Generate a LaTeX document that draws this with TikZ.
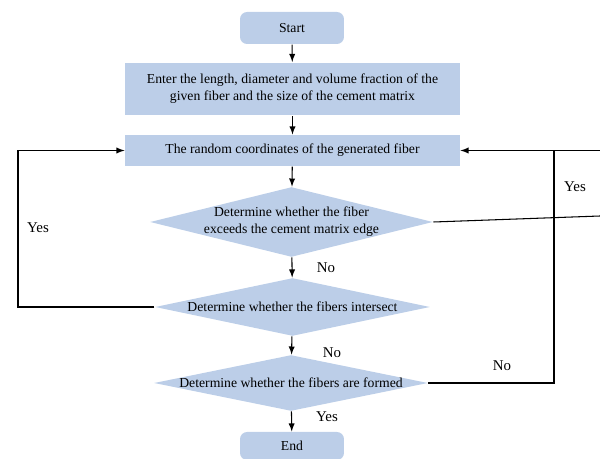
\documentclass[tikz,border=0pt]{standalone}
\usepackage{fontspec}
\setmainfont{Liberation Serif}
\usetikzlibrary{arrows,shapes,positioning}
\definecolor{flowblue}{RGB}{188,206,232}

\begin{document}
\begin{tikzpicture}[x=0.02cm,y=-0.02cm,>=latex,semithick,font=\fontsize{7.8}{9.8}\selectfont]
  \tikzstyle{term}=[rectangle,rounded corners=4pt,fill=flowblue,minimum width=2.08cm,minimum height=0.64cm,inner sep=0pt]
  \tikzstyle{box}=[rectangle,fill=flowblue,minimum width=6.7cm,inner sep=0pt,align=center]
  \tikzstyle{decision}=[diamond,fill=flowblue,inner sep=0pt]
  \tikzstyle{answer}=[font=\fontsize{8.5}{10}\selectfont]

  \useasboundingbox (0,0) rectangle (600,459);

  \node[term] (start) at (292,28) {Start};
  \node[box,minimum height=1.06cm] (input) at (292.5,89)
    {Enter the length, diameter and volume fraction of the\\given fiber and the size of the cement matrix};
  \node[box,minimum height=0.62cm] (coords) at (292.5,150.5) {The random coordinates of the generated fiber};
  \node[decision,minimum width=5.66cm,minimum height=1.4cm,
        label={[align=center]center:Determine whether the fiber\\exceeds the cement matrix edge}] (edge) at (291.5,222) {};
  \node[decision,minimum width=5.5cm,minimum height=1.16cm,
        label={center:Determine whether the fibers intersect}] (cross) at (292.5,307) {};
  \node[decision,minimum width=5.48cm,minimum height=1.12cm,
        label={center:Determine whether the fibers are formed}] (formed) at (291,383) {};
  \node[term,minimum height=0.56cm] (end) at (292,446) {End};

  \foreach \from/\to in {start/input,input/coords,coords/edge,edge/cross,cross/formed,formed/end}
    \draw[->] (\from) -- (\to);

  % loop back from the intersection test
  \coordinate (left) at (18,307);
  \draw[->] (cross.west) -- (left) |- (coords.west);

  % loops back from the right
  \coordinate (rtop) at (600,150.5);
  \coordinate (rside) at (600,216);
  \coordinate (rbend) at (554,383);
  \draw[->] (rtop) -- (coords.east);
  \draw (edge.east) -- (rside);
  \draw (formed.east) -- (rbend) -- (554,150.5);

  \node[answer] (yes-left) at (38,228) {Yes};
  \node[answer] (yes-right) at (575,187) {Yes};
  \node[answer] (no-right) at (502,366) {No};
  \node[answer] (no-edge) at (326,268) {No};
  \node[answer] (no-cross) at (332,353) {No};
  \node[answer] (yes-end) at (327,417) {Yes};
\end{tikzpicture}
\end{document}
